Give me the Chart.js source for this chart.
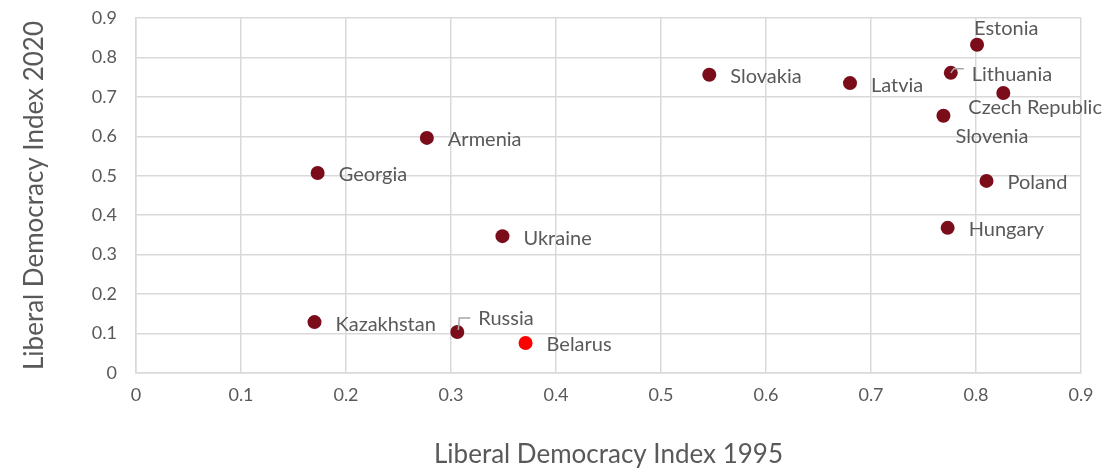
<!DOCTYPE html>
<html>
<head>
<meta charset="utf-8">
<script src="https://cdn.jsdelivr.net/npm/chart.js@4"></script>
<style>
  html, body { margin: 0; padding: 0; background: #fff; }
  #wrap { width: 1109px; height: 470px; }
</style>
</head>
<body>
<div id="wrap"><canvas id="scatter"></canvas></div>
<script>
const countries = ['Estonia','Lithuania','Czech Republic','Slovenia','Poland','Hungary','Slovakia','Latvia',
                   'Armenia','Georgia','Ukraine','Kazakhstan','Russia','Belarus'];
const ldi1995 = [0.801, 0.776, 0.826, 0.769, 0.810, 0.773, 0.546, 0.680, 0.277, 0.173, 0.349, 0.170, 0.306, 0.371];
const ldi2020 = [0.832, 0.761, 0.710, 0.652, 0.487, 0.368, 0.756, 0.735, 0.596, 0.507, 0.347, 0.129, 0.104, 0.076];
const xTicks = [0, 0.1, 0.2, 0.3, 0.4, 0.5, 0.6, 0.7, 0.8, 0.9];

// label placement (pixels from the point), plus leader lines where Excel drew them
const labelOffset = {
    'Estonia': [-3, -16], 'Czech Republic': [-35, 15], 'Slovenia': [12, 21], 'Russia': [21, -13]
};
const leaders = {
    'Lithuania': [[0, 0], [3, -4], [13, -4]],
    'Russia': [[1, -2], [2, -14], [13, -14]]
};

const FONT = 'Lato, "Open Sans", sans-serif';
const GREY = '#595959';

const labelPlugin = {
    id: 'pointLabels',
    afterDatasetsDraw(chart) {
        const ctx = chart.ctx;
        const meta = chart.getDatasetMeta(0);
        ctx.save();
        ctx.font = '20px ' + FONT;
        ctx.fillStyle = GREY;
        ctx.textBaseline = 'middle';
        meta.data.forEach((pt, i) => {
            const name = countries[i];
            const off = labelOffset[name] || [21, 2];
            ctx.fillText(name, pt.x + off[0], pt.y + off[1]);
            if (leaders[name]) {
                ctx.strokeStyle = '#a6a6a6';
                ctx.lineWidth = 1.5;
                ctx.beginPath();
                leaders[name].forEach((p, k) => {
                    if (k === 0) ctx.moveTo(pt.x + p[0], pt.y + p[1]);
                    else ctx.lineTo(pt.x + p[0], pt.y + p[1]);
                });
                ctx.stroke();
            }
        });
        ctx.restore();
    }
};

new Chart(document.getElementById('scatter'), {
    type: 'scatter',
    data: {
        datasets: [{
            data: countries.map((c, i) => ({ x: ldi1995[i], y: ldi2020[i] })),
            backgroundColor: countries.map(c => c === 'Belarus' ? '#ff0000' : '#7b0c1a'),
            borderWidth: 0,
            pointRadius: 7,
            pointHoverRadius: 7
        }]
    },
    options: {
        responsive: true,
        maintainAspectRatio: false,
        animation: false,
        events: [],
        layout: { padding: { left: 0, right: 28, top: 18, bottom: 0 } },
        plugins: { legend: { display: false }, tooltip: { enabled: false } },
        scales: {
            x: {
                type: 'linear', min: 0, max: 0.9,
                afterBuildTicks: s => { s.ticks = xTicks.map(v => ({ value: v })); },
                afterFit: s => { s.height = 97; s.paddingLeft = 0; s.paddingRight = 0; },
                grid: { color: '#d9d9d9', lineWidth: 1.5, drawTicks: false },
                border: { color: '#d9d9d9', width: 1.5 },
                ticks: { color: GREY, font: { family: FONT, size: 18 }, padding: 11,
                         callback: v => String(Math.round(v * 10) / 10) },
                title: { display: true, text: 'Liberal Democracy Index 1995', color: GREY,
                         font: { family: FONT, size: 26 }, padding: { top: 28, bottom: 0 } }
            },
            y: {
                type: 'linear', min: 0, max: 0.9,
                afterBuildTicks: s => { s.ticks = xTicks.map(v => ({ value: v })); },
                afterFit: s => { s.width = 136; s.paddingTop = 0; s.paddingBottom = 0; },
                grid: { color: '#d9d9d9', lineWidth: 1.5, drawTicks: false },
                border: { color: '#d9d9d9', width: 1.5 },
                ticks: { color: GREY, font: { family: FONT, size: 18 }, padding: 19,
                         callback: v => String(Math.round(v * 10) / 10) },
                title: { display: true, text: 'Liberal Democracy Index 2020', color: GREY,
                         font: { family: FONT, size: 26 }, padding: { top: 19, bottom: 0 } }
            }
        }
    },
    plugins: [labelPlugin]
});
</script>
</body>
</html>
